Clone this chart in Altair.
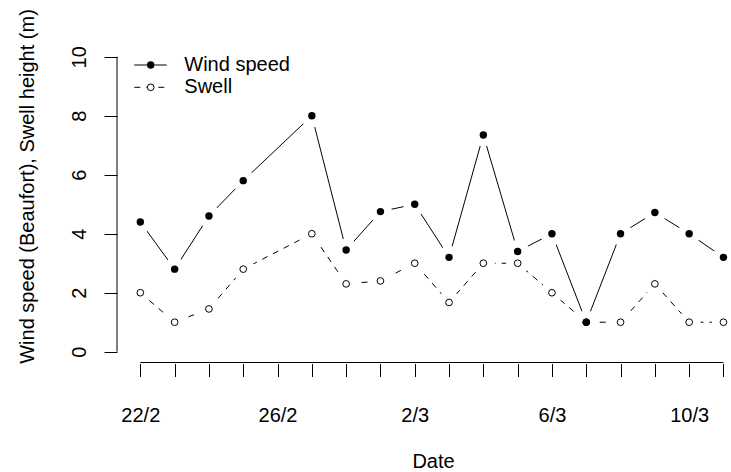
import json
import altair as alt
import pandas as pd

# ---- data ----
days = ["22/2", "23/2", "24/2", "25/2", "26/2", "27/2", "28/2", "1/3", "2/3",
        "3/3", "4/3", "5/3", "6/3", "7/3", "8/3", "9/3", "10/3", "11/3"]
obs_dates = ["22/2", "23/2", "24/2", "25/2", "27/2", "28/2", "1/3", "2/3",
             "3/3", "4/3", "5/3", "6/3", "7/3", "8/3", "9/3", "10/3", "11/3"]
wind = [4.4, 2.8, 4.6, 5.8, 8.0, 3.45, 4.75, 5.0, 3.2, 7.35, 3.4, 4.0, 1.0, 4.0, 4.72, 4.0, 3.2]
swell = [2.0, 1.0, 1.45, 2.8, 4.0, 2.3, 2.4, 3.0, 1.67, 3.0, 3.0, 2.0, 1.0, 1.0, 2.3, 1.0, 1.0]
series_names = ["Wind speed", "Swell"]
y_ticks = [0, 2, 4, 6, 8, 10]
label_every = 4
x_title = "Date"
y_title = "Wind speed (Beaufort), Swell height (m)"

rows = []
for d, w, s in zip(obs_dates, wind, swell):
    rows.append({"idx": days.index(d), "value": w, "series": series_names[0]})
    rows.append({"idx": days.index(d), "value": s, "series": series_names[1]})
df = pd.DataFrame(rows)

FONT = "Liberation Sans"
FS = 20
W, H = 614, 318.5
X_DOM = [-0.68, 17.22]
Y_DOM = [-0.4, 10.4]

tick_lbls = [d if i % label_every == 0 else "" for i, d in enumerate(days)]
label_expr = json.dumps(tick_lbls) + "[datum.value]"

x_axis = alt.Axis(values=list(range(len(days))), labelExpr=label_expr, title=x_title,
                  domain=False, grid=False, ticks=True, tickSize=13, tickColor="black",
                  tickWidth=1, labelFont=FONT, labelFontSize=FS, labelColor="black",
                  labelBaseline="alphabetic", labelAlign="center", labelPadding=44.5,
                  labelAngle=0, labelOverlap=False, labelFlush=False,
                  titleFont=FONT, titleFontSize=FS, titleFontWeight="normal",
                  titleColor="black", titleX=316, titleY=103.5,
                  titleBaseline="alphabetic", titleAlign="center")
y_axis = alt.Axis(values=y_ticks, title=y_title, domain=False, grid=False, ticks=True,
                  tickSize=13, tickColor="black", tickWidth=1, labelFont=FONT,
                  labelFontSize=FS, labelColor="black", labelAngle=270,
                  labelAlign="center", labelBaseline="alphabetic", labelPadding=18.7,
                  labelFlush=False, labelOverlap=False,
                  titleFont=FONT, titleFontSize=FS, titleFontWeight="normal",
                  titleColor="black", titleAngle=270, titleX=-84, titleY=141,
                  titleBaseline="alphabetic", titleAlign="center")

x_scale = alt.Scale(domain=X_DOM, nice=False, zero=False)
y_scale = alt.Scale(domain=Y_DOM, nice=False, zero=False)
X = alt.X("idx:Q", scale=x_scale, axis=x_axis)
Y = alt.Y("value:Q", scale=y_scale, axis=y_axis)

base = alt.Chart(df).encode(x=X, y=Y)
wind_base = base.transform_filter(alt.datum.series == series_names[0])
swell_base = base.transform_filter(alt.datum.series == series_names[1])

# axis lines spanning only the tick range (as in base R); x axis sits on the plot's bottom edge
xaxis_df = pd.DataFrame({"idx": [0, len(days) - 1], "value": [Y_DOM[0], Y_DOM[0]]})
yaxis_df = pd.DataFrame({"idx": [X_DOM[0], X_DOM[0]], "value": [y_ticks[0], y_ticks[-1]]})
x_line = alt.Chart(xaxis_df).mark_line(color="black", strokeWidth=1, clip=False, yOffset=-1).encode(x=X, y=Y)
y_line = alt.Chart(yaxis_df).mark_line(color="black", strokeWidth=1, clip=False).encode(x=X, y=Y)

swell_line = swell_base.mark_line(color="black", strokeWidth=1, strokeDash=[6, 6])
wind_line = wind_base.mark_line(color="black", strokeWidth=1)
halos = base.mark_circle(color="white", size=530, opacity=1)
swell_pts = swell_base.mark_point(shape="circle", filled=False, fill="white", stroke="black",
                                  strokeWidth=1, size=45, opacity=1)
wind_pts = wind_base.mark_circle(color="black", size=55, opacity=1)

# legend (top-left, as in R's legend("topleft", bty="n"))
leg_df = pd.DataFrame({"label": series_names})
leg_w = alt.Chart(leg_df).transform_filter(alt.datum.label == series_names[0])
leg_s = alt.Chart(leg_df).transform_filter(alt.datum.label == series_names[1])
ly1, ly2 = 20, 42.3
leg_layers = [
    leg_w.mark_rule(color="black", strokeWidth=1).encode(x=alt.value(17.3), x2=alt.value(49.7), y=alt.value(ly1)),
    leg_s.mark_rule(color="black", strokeWidth=1, strokeDash=[6, 6]).encode(x=alt.value(17.3), x2=alt.value(49.7), y=alt.value(ly2)),
    leg_w.mark_circle(color="black", size=55, opacity=1).encode(x=alt.value(33.7), y=alt.value(ly1)),
    leg_s.mark_point(shape="circle", filled=False, fill="white", stroke="black", strokeWidth=1,
                     size=45, opacity=1).encode(x=alt.value(33.7), y=alt.value(ly2)),
    leg_w.mark_text(align="left", baseline="middle", font=FONT, fontSize=FS, color="black").encode(
        x=alt.value(67.3), y=alt.value(ly1), text="label:N"),
    leg_s.mark_text(align="left", baseline="middle", font=FONT, fontSize=FS, color="black").encode(
        x=alt.value(67.3), y=alt.value(ly2), text="label:N"),
]

chart = alt.layer(y_line, swell_line, wind_line, halos, swell_pts, wind_pts, *leg_layers, x_line).properties(
    width=W, height=H,
    autosize=alt.AutoSizeParams(type="none"),
    padding={"left": 117, "top": 45, "right": 0, "bottom": 108.5},
    background="white",
).configure_view(strokeWidth=0)

chart.save("out.html", embed_options={"renderer": "svg", "actions": False})
